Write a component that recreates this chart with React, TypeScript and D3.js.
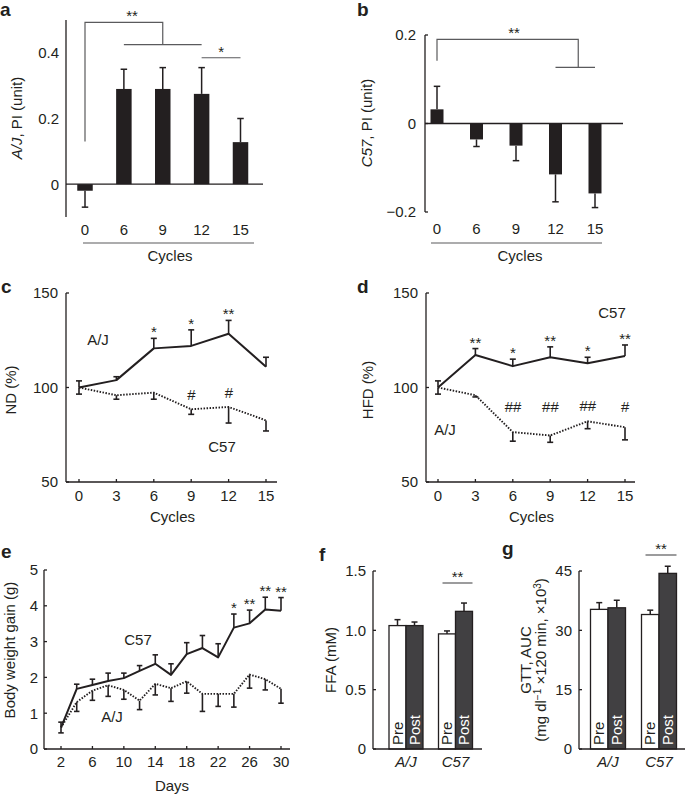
import React from "react";
import * as d3 from "d3";

const FONT = "'Liberation Sans', Arial, Helvetica, sans-serif";
const INK = "#231f20";
const GREY = "#5a5a5c";
const POST_FILL = "#414042";

// ---------- data ----------
const cyclesAB = ["0", "6", "9", "12", "15"];
const piAJ = [-0.02, 0.29, 0.29, 0.275, 0.128];
const piAJErr = [0.05, 0.06, 0.065, 0.08, 0.072];
const piC57 = [0.032, -0.036, -0.05, -0.115, -0.158];
const piC57Err = [0.052, 0.016, 0.034, 0.062, 0.032];
const piTicksA = [0, 0.2, 0.4];
const piTicksB = [-0.2, 0, 0.2];

const cyclesCD = [0, 3, 6, 9, 12, 15];
const pctTicks = [50, 100, 150];
const ndAJ = [100, 103.9, 120.7, 122, 128.4, 111];
const ndAJErr = [3.5, 1.8, 5.3, 8.5, 7.1, 5];
const ndC57 = [100, 95.9, 97.3, 88.5, 89.7, 82.6];
const ndC57Err = [3.5, 2.1, 3.5, 2.7, 8.5, 5.6];
const ndAJMarks = ["", "", "*", "*", "**", ""];
const ndC57Marks = ["", "", "", "#", "#", ""];

const hfdC57 = [100, 117.2, 111.3, 116, 112.8, 116.7];
const hfdC57Err = [3.5, 3.4, 3.7, 5.5, 3.2, 5.8];
const hfdAJ = [100, 95.9, 76.4, 74.6, 82.1, 79];
const hfdAJErr = [3.5, 0.9, 4.8, 3.6, 3.9, 6.7];
const hfdC57Marks = ["", "**", "*", "**", "*", "**"];
const hfdAJMarks = ["", "", "##", "##", "##", "#"];

const days = [2, 4, 6, 8, 10, 12, 14, 16, 18, 20, 22, 24, 26, 28, 30];
const dayTicks = [2, 6, 10, 14, 18, 22, 26, 30];
const bwTicks = [0, 1, 2, 3, 4, 5];
const bwC57 = [0.6, 1.68, 1.79, 1.9, 1.98, 2.18, 2.38, 2.07, 2.65, 2.82, 2.56, 3.39, 3.51, 3.9, 3.86];
const bwC57Err = [0.15, 0.13, 0.16, 0.22, 0.14, 0.15, 0.25, 0.31, 0.32, 0.35, 0.38, 0.38, 0.37, 0.34, 0.37];
const bwAJ = [0.6, 1.31, 1.63, 1.78, 1.65, 1.35, 1.82, 1.7, 1.89, 1.54, 1.54, 1.54, 2.08, 1.95, 1.68];
const bwAJErr = [0.15, 0.26, 0.27, 0.31, 0.26, 0.25, 0.31, 0.37, 0.33, 0.49, 0.35, 0.37, 0.38, 0.3, 0.4];
const bwC57Marks = ["", "", "", "", "", "", "", "", "", "", "", "*", "**", "**", "**"];

const strains = ["A/J", "C57"];
const phases = ["Pre", "Post"];
const ffaPre = [1.04, 0.97];
const ffaPreErr = [0.05, 0.025];
const ffaPost = [1.04, 1.16];
const ffaPostErr = [0.03, 0.07];
const ffaTicks = [0, 0.5, 1.0, 1.5];
const gttPre = [35.3, 34.0];
const gttPreErr = [1.7, 1.1];
const gttPost = [35.7, 44.4];
const gttPostErr = [1.9, 1.8];
const gttTicks = [0, 15, 30, 45];

// ---------- helpers ----------
const FS = 15;
const LW = 1.3;

function ErrBar({ x, y0, y1, cap = 6.5, w = 1.5 }: any) {
  return (
    <g stroke={INK} strokeWidth={w}>
      <line x1={x} x2={x} y1={y0} y2={y1} />
      <line x1={x - cap / 2} x2={x + cap / 2} y1={y1} y2={y1} />
    </g>
  );
}

function Letter({ x, y, t }: any) {
  return (
    <text x={x} y={y} fontSize={19} fontWeight="bold" fill={INK}>
      {t}
    </text>
  );
}

function VLabel({ x, y, children, size = FS }: any) {
  return (
    <text transform={`translate(${x},${y}) rotate(-90)`} textAnchor="middle" fontSize={size} fill={INK}>
      {children}
    </text>
  );
}

function fmtNum(t: number) {
  if (t < 0) return "\u2212" + Math.abs(t).toString();
  return t.toString();
}

// ---------- panels ----------
function PanelA() {
  const x = d3.scalePoint<string>().domain(cyclesAB).range([85, 240.5]);
  const y = d3.scaleLinear().domain([-0.1, 0.5]).range([217, 20]);
  const bw = 15.5;
  const ax = 66;
  return (
    <g>
      <Letter x={0} y={16} t="a" />
      <line x1={ax} x2={ax} y1={y(-0.1)} y2={y(0.5)} stroke={INK} strokeWidth={LW} />
      {piTicksA.map((t) => (
        <text key={t} x={59} y={y(t) + 5.4} textAnchor="end" fontSize={FS}>
          {t === 0 ? "0" : t.toFixed(1)}
        </text>
      ))}
      {cyclesAB.map((c, i) => {
        const v = piAJ[i];
        const e = piAJErr[i];
        const top = Math.min(y(v), y(0));
        return (
          <g key={c}>
            <ErrBar x={x(c)!} y0={y(v)} y1={y(v >= 0 ? v + e : v - e)} />
            <rect x={x(c)! - bw / 2} y={top} width={bw} height={Math.abs(y(v) - y(0))} fill={INK} />
            <text x={x(c)!} y={234.5} textAnchor="middle" fontSize={FS}>
              {c}
            </text>
          </g>
        );
      })}
      <line x1={ax} x2={263} y1={y(0)} y2={y(0)} stroke={INK} strokeWidth={LW} />
      <line x1={83} x2={254} y1={243} y2={243} stroke={GREY} strokeWidth={1.2} />
      <text x={170} y={261} textAnchor="middle" fontSize={FS}>Cycles</text>
      <g stroke={GREY} strokeWidth={1.2} fill="none">
        <path d={`M${x("0")},${y(0.13)}V${y(0.493)}H${x("9")}V${y(0.425)}`} />
        <line x1={x("6")} x2={x("12")} y1={y(0.425)} y2={y(0.425)} />
        <line x1={x("12")} x2={x("15")} y1={y(0.385)} y2={y(0.385)} />
      </g>
      <text x={132} y={y(0.493) - 1} textAnchor="middle" fontSize={FS}>**</text>
      <text x={(x("12")! + x("15")!) / 2} y={y(0.385) - 1} textAnchor="middle" fontSize={FS}>*</text>
      <VLabel x={22} y={118}>
        <tspan fontStyle="italic">A/J</tspan>, PI (unit)
      </VLabel>
    </g>
  );
}

function PanelB() {
  const x = d3.scalePoint<string>().domain(cyclesAB).range([437, 595]);
  const y = d3.scaleLinear().domain([-0.2, 0.2]).range([212, 35]);
  const bw = 13;
  const ax = 425;
  return (
    <g>
      <Letter x={357} y={16} t="b" />
      <line x1={ax} x2={ax} y1={y(-0.2)} y2={y(0.2)} stroke={INK} strokeWidth={LW} />
      {piTicksB.map((t) => (
        <g key={t}>
          <line x1={ax} x2={ax + 3} y1={y(t)} y2={y(t)} stroke={INK} strokeWidth={LW} />
          <text x={416} y={y(t) + 5.4} textAnchor="end" fontSize={FS}>
            {fmtNum(t)}
          </text>
        </g>
      ))}
      {cyclesAB.map((c, i) => {
        const v = piC57[i];
        const e = piC57Err[i];
        const top = Math.min(y(v), y(0));
        return (
          <g key={c}>
            <ErrBar x={x(c)!} y0={y(v)} y1={y(v >= 0 ? v + e : v - e)} />
            <rect x={x(c)! - bw / 2} y={top} width={bw} height={Math.abs(y(v) - y(0))} fill={INK} />
            <text x={x(c)!} y={233.5} textAnchor="middle" fontSize={FS}>
              {c}
            </text>
          </g>
        );
      })}
      <line x1={ax} x2={623} y1={y(0)} y2={y(0)} stroke={INK} strokeWidth={LW} />
      <line x1={431} x2={602} y1={243} y2={243} stroke={GREY} strokeWidth={1.2} />
      <text x={520} y={261} textAnchor="middle" fontSize={FS}>Cycles</text>
      <g stroke={GREY} strokeWidth={1.2} fill="none">
        <path d={`M${x("0")},${y(0.142)}V${y(0.19)}H${(x("12")! + x("15")!) / 2 + 3}V${y(0.127)}`} />
        <line x1={x("12")} x2={x("15")} y1={y(0.127)} y2={y(0.127)} />
      </g>
      <text x={514} y={y(0.19) - 1} textAnchor="middle" fontSize={FS}>**</text>
      <VLabel x={372} y={123}>
        <tspan fontStyle="italic">C57</tspan>, PI (unit)
      </VLabel>
    </g>
  );
}

function LineSeries({ xs, vals, errs, x, y, up, dotted, cap = 6 }: any) {
  const line = d3
    .line<number>()
    .x((_, i) => x(xs[i]))
    .y((d) => y(d));
  return (
    <g>
      <path
        d={line(vals)!}
        fill="none"
        stroke={INK}
        strokeWidth={dotted ? 1.9 : 2}
        strokeDasharray={dotted ? "1.5,1.5" : undefined}
        strokeLinejoin="round"
      />
      {vals.map((v: number, i: number) => (
        <ErrBar key={i} x={x(xs[i])} y0={y(v)} y1={y(up ? v + errs[i] : v - errs[i])} cap={cap} w={1.6} />
      ))}
    </g>
  );
}

function PanelCD({ which }: any) {
  const isC = which === "c";
  const ax = isC ? 66 : 426;
  const x = d3.scaleLinear().domain([0, 15]).range(isC ? [79, 266] : [438, 625]);
  const axEnd = isC ? 277 : 635;
  const y = d3.scaleLinear().domain([50, 150]).range([482, 293]);
  const solid = isC ? ndAJ : hfdC57;
  const solidErr = isC ? ndAJErr : hfdC57Err;
  const dotted = isC ? ndC57 : hfdAJ;
  const dottedErr = isC ? ndC57Err : hfdAJErr;
  const solidMarks = isC ? ndAJMarks : hfdC57Marks;
  const dotMarks = isC ? ndC57Marks : hfdAJMarks;
  return (
    <g>
      <Letter x={isC ? 1 : 357} y={293} t={which} />
      <line x1={ax} x2={ax} y1={y(50)} y2={y(150)} stroke={INK} strokeWidth={LW} />
      <line x1={ax} x2={axEnd} y1={y(50)} y2={y(50)} stroke={INK} strokeWidth={LW} />
      {pctTicks.map((t) => (
        <g key={t}>
          <line x1={ax} x2={ax + 3} y1={y(t)} y2={y(t)} stroke={INK} strokeWidth={LW} />
          <text x={ax - 8} y={y(t) + 5.4} textAnchor="end" fontSize={FS}>
            {t}
          </text>
        </g>
      ))}
      {cyclesCD.map((c) => (
        <g key={c}>
          <line x1={x(c)} x2={x(c)} y1={y(50)} y2={y(50) - 3} stroke={INK} strokeWidth={LW} />
          <text x={x(c)} y={501} textAnchor="middle" fontSize={FS}>
            {c}
          </text>
        </g>
      ))}
      <text x={(x(0) + x(15)) / 2} y={522} textAnchor="middle" fontSize={FS}>Cycles</text>
      <LineSeries xs={cyclesCD} vals={dotted} errs={dottedErr} x={x} y={y} up={false} dotted />
      <LineSeries xs={cyclesCD} vals={solid} errs={solidErr} x={x} y={y} up={true} />
      {solidMarks.map((m, i) =>
        m ? (
          <text key={i} x={x(cyclesCD[i])} y={y(solid[i] + solidErr[i]) - 1} textAnchor="middle" fontSize={FS}>
            {m}
          </text>
        ) : null
      )}
      {dotMarks.map((m, i) =>
        m ? (
          <text
            key={i}
            x={x(cyclesCD[i])}
            y={isC ? y(dotted[i]) - 9 : Math.min(y(dotted[i]) - 10, y(87))}
            textAnchor="middle"
            fontSize={FS}
            fontStyle="italic"
          >
            {m}
          </text>
        ) : null
      )}
      {isC ? (
        <>
          <text x={98} y={345} textAnchor="middle" fontSize={FS}>A/J</text>
          <text x={222} y={452} textAnchor="middle" fontSize={FS}>C57</text>
          <VLabel x={15.5} y={390}>ND (%)</VLabel>
        </>
      ) : (
        <>
          <text x={612} y={318} textAnchor="middle" fontSize={FS}>C57</text>
          <text x={445} y={435} textAnchor="middle" fontSize={FS}>A/J</text>
          <VLabel x={373} y={390}>HFD (%)</VLabel>
        </>
      )}
    </g>
  );
}

function PanelE() {
  const ax = 44;
  const x = d3.scaleLinear().domain([2, 30]).range([61, 281]);
  const y = d3.scaleLinear().domain([0, 5]).range([749, 570]);
  return (
    <g>
      <Letter x={1} y={558} t="e" />
      <line x1={ax} x2={ax} y1={y(0)} y2={y(5)} stroke={INK} strokeWidth={LW} />
      <line x1={ax} x2={290} y1={y(0)} y2={y(0)} stroke={INK} strokeWidth={LW} />
      {bwTicks.map((t) => (
        <g key={t}>
          <line x1={ax} x2={ax + 3} y1={y(t)} y2={y(t)} stroke={INK} strokeWidth={LW} />
          <text x={38} y={y(t) + 5.4} textAnchor="end" fontSize={FS}>
            {t}
          </text>
        </g>
      ))}
      {dayTicks.map((d) => (
        <g key={d}>
          <line x1={x(d)} x2={x(d)} y1={y(0)} y2={y(0) - 3} stroke={INK} strokeWidth={LW} />
          <text x={x(d)} y={767} textAnchor="middle" fontSize={FS}>
            {d}
          </text>
        </g>
      ))}
      <text x={172} y={791} textAnchor="middle" fontSize={FS}>Days</text>
      <LineSeries xs={days} vals={bwAJ} errs={bwAJErr} x={x} y={y} up={false} dotted cap={5.5} />
      <LineSeries xs={days} vals={bwC57} errs={bwC57Err} x={x} y={y} up={true} cap={5.5} />
      {bwC57Marks.map((m, i) =>
        m ? (
          <text key={i} x={x(days[i])} y={y(bwC57[i] + bwC57Err[i]) - 1} textAnchor="middle" fontSize={FS}>
            {m}
          </text>
        ) : null
      )}
      <text x={138} y={645} textAnchor="middle" fontSize={FS}>C57</text>
      <text x={112} y={722} textAnchor="middle" fontSize={FS}>A/J</text>
      <VLabel x={15} y={650}>Body weight gain (g)</VLabel>
    </g>
  );
}

function PrePostPanel({ which }: any) {
  const isF = which === "f";
  const ax = isF ? 373 : 579;
  const axEnd = isF ? 482 : 685;
  const ticks = isF ? ffaTicks : gttTicks;
  const y = d3
    .scaleLinear()
    .domain(isF ? [0, 1.5] : [0, 45])
    .range([749, 571]);
  const xg = d3
    .scalePoint<string>()
    .domain(strains)
    .range(isF ? [406, 455.5] : [608, 659]);
  const bw = isF ? 17 : 17.5;
  const pre = isF ? ffaPre : gttPre;
  const preErr = isF ? ffaPreErr : gttPreErr;
  const post = isF ? ffaPost : gttPost;
  const postErr = isF ? ffaPostErr : gttPostErr;
  const sigY = isF ? 583 : 555;
  return (
    <g>
      <Letter x={isF ? 319 : 502} y={isF ? 561 : 555} t={which} />
      {strains.map((s, i) => {
        const cx = xg(s)!;
        const vals = [pre[i], post[i]];
        const errs = [preErr[i], postErr[i]];
        return (
          <g key={s}>
            {phases.map((p, j) => {
              const bx = j === 0 ? cx - bw : cx;
              return (
                <g key={p}>
                  <ErrBar x={bx + bw / 2} y0={y(vals[j])} y1={y(vals[j] + errs[j])} cap={6} w={1.5} />
                  <rect
                    x={bx}
                    y={y(vals[j])}
                    width={bw}
                    height={y(0) - y(vals[j])}
                    fill={j === 0 ? "#ffffff" : POST_FILL}
                    stroke={INK}
                    strokeWidth={1.3}
                  />
                  <text
                    transform={`translate(${bx + bw / 2 + 5.2},${y(0) - 4}) rotate(-90)`}
                    fontSize={FS}
                    fill={j === 0 ? INK : "#ffffff"}
                  >
                    {p}
                  </text>
                </g>
              );
            })}
            <text x={cx} y={767} textAnchor="middle" fontSize={FS} fontStyle="italic">
              {s}
            </text>
          </g>
        );
      })}
      <line x1={ax} x2={ax} y1={y.range()[0]} y2={y.range()[1]} stroke={INK} strokeWidth={LW} />
      <line x1={ax} x2={axEnd} y1={y(0)} y2={y(0)} stroke={INK} strokeWidth={LW} />
      {ticks.map((t) => (
        <g key={t}>
          <line x1={ax} x2={ax + 3} y1={y(t)} y2={y(t)} stroke={INK} strokeWidth={LW} />
          <text x={ax - 7} y={y(t) + 5.4} textAnchor="end" fontSize={FS}>
            {isF ? (t === 0 ? "0" : t.toFixed(1)) : t}
          </text>
        </g>
      ))}
      <line
        x1={xg("C57")! - bw + 4}
        x2={xg("C57")! + bw}
        y1={sigY}
        y2={sigY}
        stroke={GREY}
        strokeWidth={1.2}
      />
      <text x={xg("C57")! + 2} y={sigY - 1} textAnchor="middle" fontSize={FS}>**</text>
      {isF ? (
        <VLabel x={336} y={660}>FFA (mM)</VLabel>
      ) : (
        <>
          <VLabel x={531} y={660}>GTT, AUC</VLabel>
          <VLabel x={546} y={660}>
            (mg dl
            <tspan dy={-5} fontSize={10}>{"\u22121"}</tspan>
            <tspan dy={5}> ×120 min, ×10</tspan>
            <tspan dy={-5} fontSize={10}>3</tspan>
            <tspan dy={5}>)</tspan>
          </VLabel>
        </>
      )}
    </g>
  );
}

export default function App() {
  return (
    <svg
      width={685}
      height={794}
      viewBox="0 0 685 794"
      style={{ position: "absolute", left: 0, top: 0, background: "#fff" }}
      fontFamily={FONT}
      fill={INK}
    >
      <rect x={0} y={0} width={685} height={794} fill="#fff" />
      <PanelA />
      <PanelB />
      <PanelCD which="c" />
      <PanelCD which="d" />
      <PanelE />
      <PrePostPanel which="f" />
      <PrePostPanel which="g" />
    </svg>
  );
}
